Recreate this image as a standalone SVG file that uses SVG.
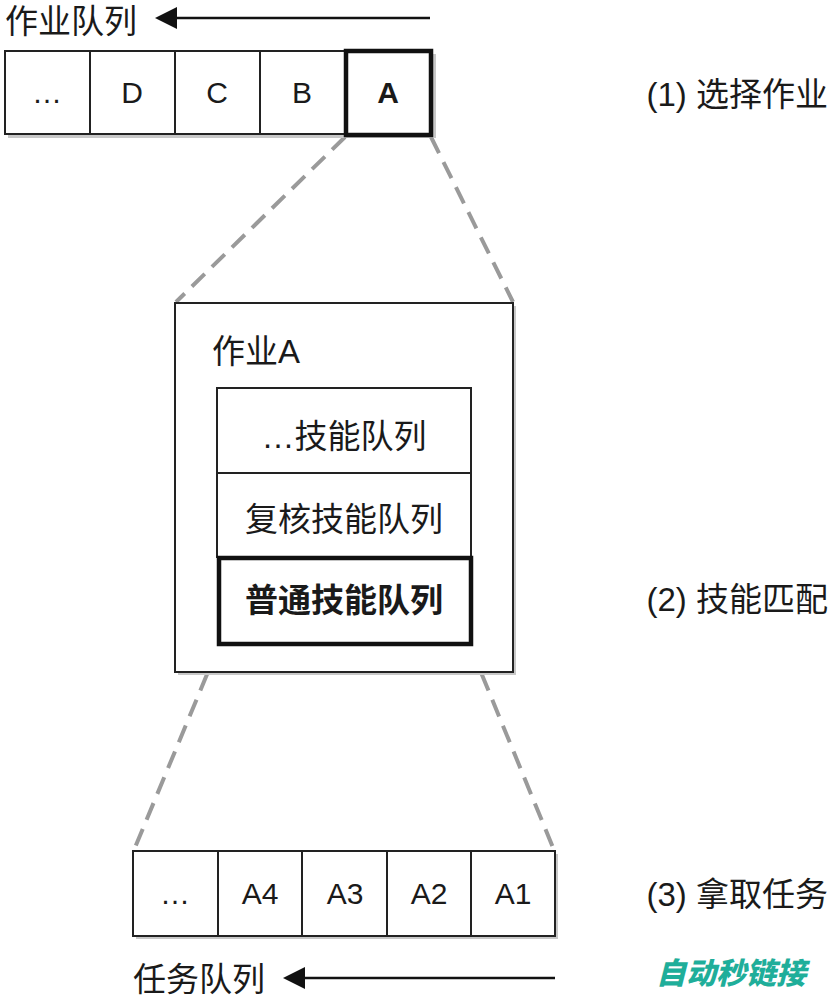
<svg xmlns="http://www.w3.org/2000/svg" width="835" height="1000" viewBox="0 0 835 1000">
<style>
.cell{fill:#fff;stroke:#222;stroke-width:2}
.thick{fill:#fff;stroke:#111;stroke-width:4.5}
.sh{fill:#c8c8c8}
.lt{font-family:"Liberation Sans",Arial,sans-serif;font-size:30px;fill:#1a1a1a;text-anchor:middle}
.cj{font-family:"Liberation Sans","Noto Sans CJK SC",sans-serif;font-size:33px;fill:#1a1a1a}
.dash{stroke:#9a9a9a;stroke-width:4;stroke-dasharray:18 10;fill:none}
.arr{stroke:#111;stroke-width:2.5;fill:none}
</style>
<rect width="835" height="1000" fill="#fff"/>
<g id="connectors">
<line class="dash" x1="345" y1="137" x2="176" y2="302"/>
<line class="dash" x1="431" y1="137" x2="513" y2="302"/>
<line class="dash" x1="218" y1="648" x2="134" y2="850"/>
<line class="dash" x1="471" y1="648" x2="554" y2="850"/>
<line class="arr" x1="174" y1="18" x2="430" y2="18"/>
<polygon points="155,18 177,7 177,29" fill="#111"/>
<line class="arr" x1="302" y1="978" x2="555" y2="978"/>
<polygon points="283,978 305,967 305,989" fill="#111"/>
</g>
<g id="job-queue">
<text class="cj" x="5" y="33">作业队列</text>
<rect class="sh" x="8" y="54" width="428" height="84"/>
<rect class="cell" x="5" y="51" width="85" height="83"/>
<rect class="cell" x="90" y="51" width="85" height="83"/>
<rect class="cell" x="175" y="51" width="85" height="83"/>
<rect class="cell" x="260" y="51" width="85" height="83"/>
<rect class="thick" x="346" y="51" width="85" height="84"/>
<text class="lt" x="47" y="103">…</text>
<text class="lt" x="132" y="103">D</text>
<text class="lt" x="217" y="103">C</text>
<text class="lt" x="302" y="103">B</text>
<text class="lt" x="388" y="103" font-weight="bold">A</text>
</g>
<g id="job-a">
<rect class="sh" x="178" y="306" width="338" height="369"/>
<rect class="cell" x="175" y="303" width="338" height="369"/>
<text class="cj" x="212" y="363">作业A</text>
<rect class="cell" x="217" y="388" width="254" height="85"/>
<rect class="cell" x="217" y="473" width="254" height="84"/>
<rect class="thick" x="219" y="558" width="252" height="86"/>
<text class="cj" x="344" y="448" text-anchor="middle">…技能队列</text>
<text class="cj" x="344" y="531" text-anchor="middle">复核技能队列</text>
<text class="cj" x="344" y="612" text-anchor="middle" font-weight="bold">普通技能队列</text>
</g>
<g id="task-queue">
<rect class="sh" x="136" y="854" width="422" height="85"/>
<rect class="cell" x="133" y="851" width="85" height="85"/>
<rect class="cell" x="218" y="851" width="84" height="85"/>
<rect class="cell" x="302" y="851" width="85" height="85"/>
<rect class="cell" x="387" y="851" width="84" height="85"/>
<rect class="cell" x="471" y="851" width="84" height="85"/>
<text class="lt" x="175" y="904">…</text>
<text class="lt" x="260" y="904">A4</text>
<text class="lt" x="345" y="904">A3</text>
<text class="lt" x="429" y="904">A2</text>
<text class="lt" x="513" y="904">A1</text>
<text class="cj" x="133" y="991">任务队列</text>
</g>
<g id="steps">
<text class="cj" x="828" y="106" text-anchor="end">(1) 选择作业</text>
<text class="cj" x="828" y="611" text-anchor="end">(2) 技能匹配</text>
<text class="cj" x="828" y="906" text-anchor="end">(3) 拿取任务</text>
</g>
<text x="731" y="984" text-anchor="middle" font-family="'Noto Sans CJK SC',sans-serif" font-size="30" font-weight="900" font-style="italic" fill="#1fae9a">自动秒链接</text>
</svg>
